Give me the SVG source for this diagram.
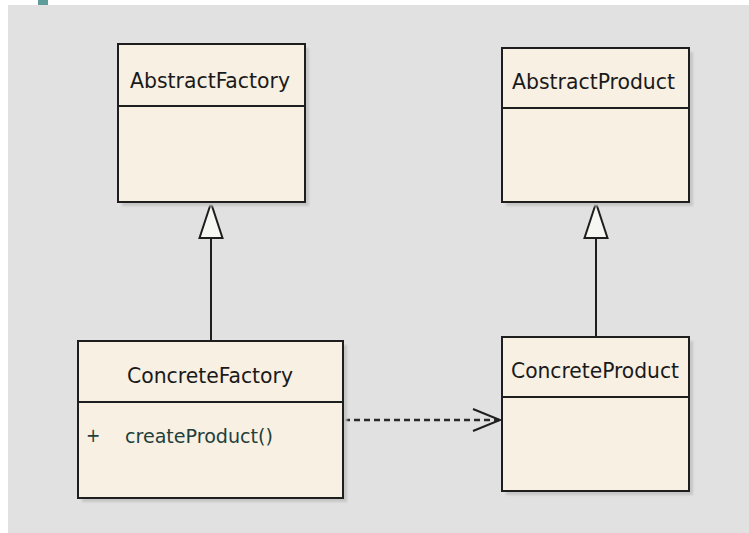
<svg xmlns="http://www.w3.org/2000/svg" width="749" height="533" viewBox="0 0 749 533">
  <style>
    .box { fill: #f8f0e3; stroke: #1e1e1e; stroke-width: 2; }
    .shadow { fill: #c6c6c6; }
    .div { stroke: #1e1e1e; stroke-width: 2; }
    .name { font-family: "DejaVu Sans Condensed", "DejaVu Sans", sans-serif; font-size: 22px; fill: #1a1a1a; }
    .op { font-family: "DejaVu Sans Condensed", "DejaVu Sans", sans-serif; font-size: 19px; fill: #1f3f3c; }
    .edge { stroke: #1e1e1e; stroke-width: 2; fill: none; }
    .dash { stroke: #2a2a2a; stroke-width: 2.5; fill: none; stroke-dasharray: 6,4; }
    .tri { fill: #f6f6f2; stroke: #1e1e1e; stroke-width: 2; stroke-linejoin: miter; }
  </style>
  <defs>
    <filter id="soft" x="-10%" y="-10%" width="120%" height="120%">
      <feGaussianBlur stdDeviation="1.2"/>
    </filter>
  </defs>

  <!-- canvas -->
  <rect x="0" y="0" width="749" height="533" fill="#ffffff"/>
  <rect x="8" y="5" width="741" height="528" fill="#e1e1e1"/>
  <rect x="38" y="0" width="10" height="5" fill="#5f9c9c"/>

  <!-- connectors -->
  <g id="connectors">
    <!-- ConcreteFactory generalizes AbstractFactory -->
    <line class="edge" x1="211" y1="341" x2="211" y2="238"/>
    <polygon class="tri" points="211,203 199.5,238 222.5,238"/>
    <!-- ConcreteProduct generalizes AbstractProduct -->
    <line class="edge" x1="596" y1="337" x2="596" y2="238"/>
    <polygon class="tri" points="596,203 584.5,238 607.5,238"/>
    <!-- ConcreteFactory depends on ConcreteProduct -->
    <line class="dash" x1="344" y1="420" x2="499" y2="420"/>
    <polyline class="edge" points="473,409 500,420 473,431"/>
  </g>

  <g id="abstract-factory">
    <rect class="shadow" x="122" y="48" width="187" height="158" filter="url(#soft)"/>
    <rect class="box" x="118" y="44" width="187" height="158"/>
    <line class="div" x1="118" y1="106" x2="305" y2="106"/>
    <text class="name" x="130" y="88" textLength="160" lengthAdjust="spacingAndGlyphs">AbstractFactory</text>
  </g>

  <g id="abstract-product">
    <rect class="shadow" x="506" y="52" width="187" height="154" filter="url(#soft)"/>
    <rect class="box" x="502" y="48" width="187" height="154"/>
    <line class="div" x1="502" y1="108" x2="689" y2="108"/>
    <text class="name" x="512" y="89" textLength="163" lengthAdjust="spacingAndGlyphs">AbstractProduct</text>
  </g>

  <g id="concrete-factory">
    <rect class="shadow" x="82" y="345" width="265" height="157" filter="url(#soft)"/>
    <rect class="box" x="78" y="341" width="265" height="157"/>
    <line class="div" x1="78" y1="402" x2="343" y2="402"/>
    <text class="name" x="127" y="383" textLength="166" lengthAdjust="spacingAndGlyphs">ConcreteFactory</text>
    <text class="op" x="86" y="442">+</text>
    <text class="op" x="125" y="443" textLength="148" lengthAdjust="spacingAndGlyphs">createProduct()</text>
  </g>

  <g id="concrete-product">
    <rect class="shadow" x="506" y="341" width="187" height="154" filter="url(#soft)"/>
    <rect class="box" x="502" y="337" width="187" height="154"/>
    <line class="div" x1="502" y1="397" x2="689" y2="397"/>
    <text class="name" x="511" y="378" textLength="168" lengthAdjust="spacingAndGlyphs">ConcreteProduct</text>
  </g>
</svg>
